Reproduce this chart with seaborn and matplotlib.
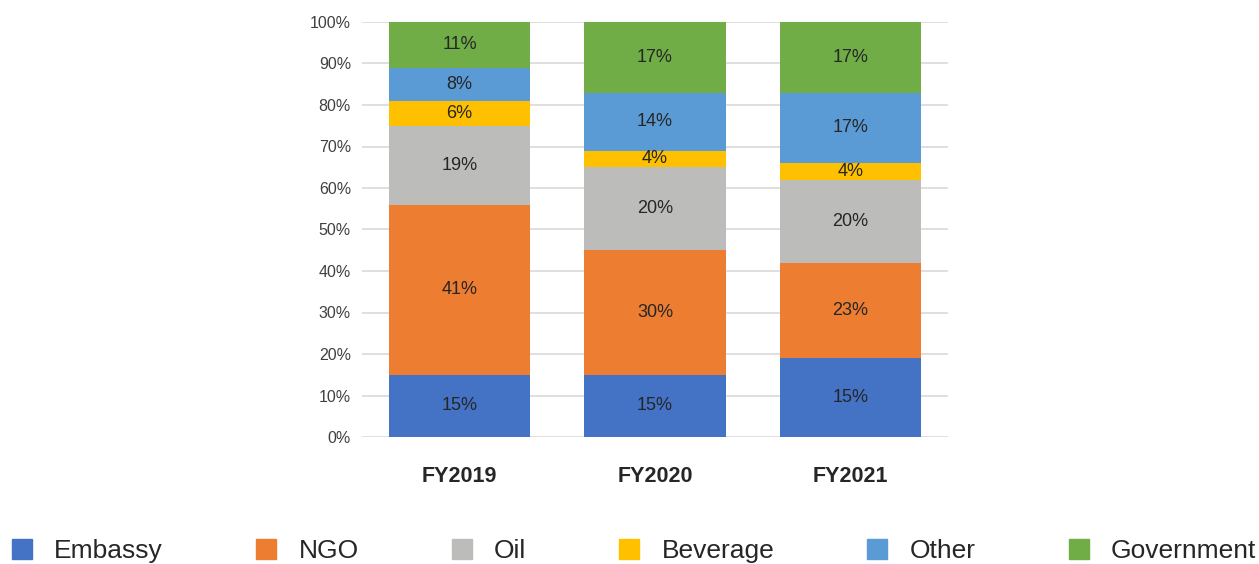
import matplotlib
matplotlib.use("Agg")
import matplotlib.pyplot as plt
from matplotlib.lines import Line2D
from matplotlib.ticker import FuncFormatter
import seaborn as sns
import pandas as pd
import numpy as np

years = ["FY2019", "FY2020", "FY2021"]
series = ["Embassy", "NGO", "Oil", "Beverage", "Other", "Government"]
embassy = [15, 15, 19]
ngo = [41, 30, 23]
oil = [19, 20, 20]
beverage = [6, 4, 4]
other = [8, 14, 17]
government = [11, 17, 17]
# printed labels (source shows 15% for FY2021 Embassy)
embassy_labels = ["15%", "15%", "15%"]
ngo_labels = ["41%", "30%", "23%"]
oil_labels = ["19%", "20%", "20%"]
beverage_labels = ["6%", "4%", "4%"]
other_labels = ["8%", "14%", "17%"]
government_labels = ["11%", "17%", "17%"]

colors = ["#4472C4", "#ED7D31", "#BCBCBB", "#FFC000", "#5B9BD5", "#70AD47"]

sns.set_theme(style="white")
plt.rcParams["font.family"] = ["Liberation Sans", "DejaVu Sans"]

values = [embassy, ngo, oil, beverage, other, government]
labels = [embassy_labels, ngo_labels, oil_labels, beverage_labels, other_labels, government_labels]
cum = np.cumsum(np.array(values, dtype=float), axis=0)

fig = plt.figure(figsize=(12.59, 5.64), dpi=100)
ax = fig.add_axes([362/1259, 1-437/564, (948-362)/1259, (437-22)/564])

for y in range(0, 101, 10):
    ax.axhline(y, color="#D9D9D9", lw=1.2, zorder=0)

# draw cumulative totals from top layer down so lower layers overdraw
for i in reversed(range(len(series))):
    df = pd.DataFrame({"year": years, "total": cum[i]})
    sns.barplot(data=df, x="year", y="total", color=colors[i], saturation=1,
                width=0.723, ax=ax, zorder=2, edgecolor="none", linewidth=0)

for i in range(len(series)):
    for j in range(len(years)):
        center = cum[i][j] - values[i][j] / 2
        ax.text(j, center, labels[i][j], ha="center", va="center",
                fontsize=13, color="#262626", zorder=3)

ax.set_ylim(0, 100)
ax.set_xlim(-0.5, 2.5)
ax.set_yticks(range(0, 101, 10))
ax.yaxis.set_major_formatter(FuncFormatter(lambda v, p: f"{int(v)}%"))
ax.tick_params(axis="y", labelsize=11.5, colors="#404040", length=0, pad=8)
ax.tick_params(axis="x", labelsize=15.5, colors="#262626", length=0, pad=21)
for lab in ax.get_xticklabels():
    lab.set_fontweight("bold")
ax.set_xlabel("")
ax.set_ylabel("")
for s in ax.spines.values():
    s.set_visible(False)

handles = [Line2D([0], [0], marker="s", linestyle="none", markersize=14.5,
                  markerfacecolor=c, markeredgecolor=c) for c in colors]
fig.legend(handles, series, loc="lower left", bbox_to_anchor=(0.009, 0.002),
           ncol=6, frameon=False, fontsize=19, handlelength=0.8,
           handletextpad=0.83, columnspacing=3.5, borderpad=0, borderaxespad=0)

fig.savefig("out.png", dpi=100)
